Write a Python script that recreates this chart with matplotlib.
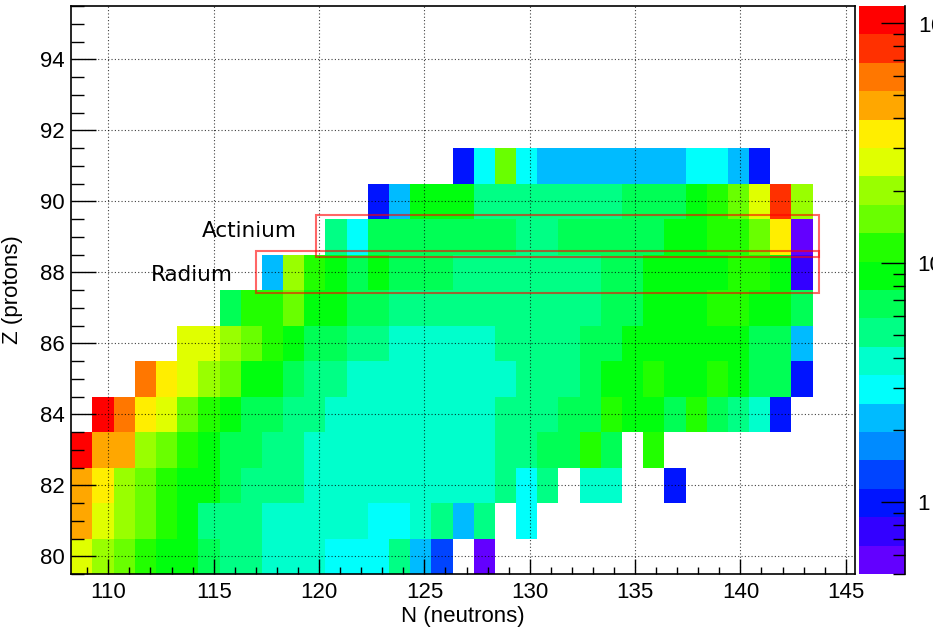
import colorsys

import numpy as np
import matplotlib
matplotlib.use('Agg')
import matplotlib.pyplot as plt
from matplotlib.colors import ListedColormap, LogNorm
from matplotlib.patches import Rectangle
from matplotlib.ticker import MultipleLocator, FixedLocator, FixedFormatter

# columns N = 109 ... 143, rows Z = 80 ... 91 ; 0 means no entry
n_values = list(range(109, 144))
z_values = list(range(80, 92))

z80 = [26, 20, 15, 12, 9, 9, 7, 5, 5, 4, 4, 4, 3, 3, 3, 5, 2, 1.3, 0, 0.57] + [0] * 15
z81 = [45, 26, 20, 15, 12, 9, 5, 5, 5, 4, 4, 4, 4, 4, 3, 3, 4, 5, 2, 5, 0, 3] + [0] * 13
z82 = [45, 35, 20, 15, 12, 9, 9, 7, 5, 5, 5] + [4] * 9 + [5, 3, 5, 0, 4, 4, 0, 0, 1] + [0] * 6
z83 = [103, 45, 45, 20, 15, 12, 9, 7, 7, 5, 5] + [4] * 9 + [5, 5, 7, 7, 12, 7, 0, 12] + [0] * 7
z84 = [0, 103, 60, 35, 26, 15, 12, 9, 7, 7, 5, 5] + [4] * 8 + \
      [5, 5, 5, 7, 7, 12, 9, 9, 7, 12, 7, 5, 4, 1, 0]
z85 = [0, 0, 0, 60, 35, 26, 20, 15, 9, 9, 7, 5, 5] + [4] * 8 + \
      [5, 5, 5, 7, 9, 9, 12, 9, 9, 12, 9, 7, 7, 1]
z86 = [0] * 5 + [26, 26, 20, 15, 12, 9, 7, 7, 5, 5] + [4] * 5 + [5] * 4 + \
      [7, 7] + [9] * 6 + [7, 7, 2]
z87 = [0] * 7 + [7, 12, 12, 15, 9, 9, 7, 7] + [5] * 10 + [7, 7, 9, 9, 9, 12, 12, 9, 9, 7]
z88 = [0] * 9 + [2, 20, 12, 9, 7, 9, 7, 7, 7] + [5] * 7 + [7, 7, 9, 9, 9, 9, 12, 12, 9, 0.75]
z89 = [0] * 12 + [5, 3] + [7] * 7 + [5, 5] + [7] * 5 + [9, 9, 12, 12, 15, 35, 0.57]
z90 = [0] * 14 + [1, 2, 9, 9, 9] + [5] * 7 + [7, 7, 7, 9, 12, 15, 26, 78, 20]
z91 = [0] * 18 + [1, 3, 15, 3] + [2] * 7 + [3, 3, 2, 1, 0, 0]

rows = np.array([z80, z81, z82, z83, z84, z85, z86, z87, z88, z89, z90, z91], dtype=float)
counts = np.ma.masked_less_equal(rows, 0)

# histogram binning of the N axis (37 bins over the frame) and unit bins in Z
x_lo, x_hi = 108.24, 145.44
bin_w = (x_hi - x_lo) / 37
x_edges = x_lo + bin_w * np.arange(len(n_values) + 1)
y_edges = np.array(z_values + [z_values[-1] + 1]) - 0.5

# 20-level rainbow, violet -> red, in HLS at full saturation
n_levels = 20
palette = []
for k in range(n_levels):
    idx = int((k + 0.99) * 50 / n_levels)
    hue = 0.0 if idx >= 49 else 280 - (idx + 1) * 5.6
    palette.append(colorsys.hls_to_rgb(hue / 360.0, 0.5, 1.0))
cmap = ListedColormap(palette)
norm = LogNorm(vmin=0.5, vmax=118)

plt.rcParams['font.family'] = ['Liberation Sans', 'DejaVu Sans']

fig = plt.figure(figsize=(9.33, 6.27), dpi=100)
ax = fig.add_axes([0.0764, 0.0845, 0.840, 0.9059])
cax = fig.add_axes([0.9207, 0.0845, 0.0493, 0.9059])

mesh = ax.pcolormesh(x_edges, y_edges, counts, cmap=cmap, norm=norm, zorder=1)

ax.set_xlim(x_lo, x_hi)
ax.set_ylim(79.5, 95.5)
ax.set_axisbelow(False)
ax.grid(True, which='major', color='black', linestyle=(0, (1, 2)),
        linewidth=0.8, alpha=0.75)

ax.xaxis.set_major_locator(MultipleLocator(5))
ax.xaxis.set_minor_locator(MultipleLocator(1))
ax.yaxis.set_major_locator(MultipleLocator(2))
ax.yaxis.set_minor_locator(MultipleLocator(0.5))
ax.tick_params(which='both', direction='in', top=False, right=False,
               labelsize=16, width=1)
ax.tick_params(axis='x', which='major', length=11, pad=6)
ax.tick_params(axis='x', which='minor', length=5)
ax.tick_params(axis='y', which='major', length=18, pad=5)
ax.tick_params(axis='y', which='minor', length=9)
for sp in ax.spines.values():
    sp.set_linewidth(1.2)

ax.set_xlabel('N (neutrons)', fontsize=16, labelpad=2)
ax.set_ylabel('Z (protons)', fontsize=16, labelpad=12)

# element rows
box_style = dict(fill=False, edgecolor='red', alpha=0.6, linewidth=1.5, zorder=4)
ax.add_patch(Rectangle((119.85, 88.43), 143.75 - 119.85, 89.61 - 88.43, **box_style))
ax.add_patch(Rectangle((117.03, 87.42), 143.75 - 117.03, 88.60 - 87.42, **box_style))
ax.text(114.45, 89.0, 'Actinium', family='DejaVu Sans', fontsize=15.5,
        ha='left', va='baseline', zorder=5)
ax.text(112.0, 87.74, 'Radium', family='DejaVu Sans', fontsize=15.5,
        ha='left', va='baseline', zorder=5)

cb = fig.colorbar(mesh, cax=cax)
cb.outline.set_visible(False)
cax.plot([1, 1], [0, 1], transform=cax.transAxes, color='black',
         linewidth=1.2, clip_on=False)
cax.yaxis.set_major_locator(FixedLocator([1, 10, 100]))
cax.yaxis.set_major_formatter(FixedFormatter(['1', '10', '10$^{2}$']))
cax.tick_params(which='both', direction='in', right=True, left=False,
                labelsize=16, width=1)
cax.tick_params(which='major', length=17, pad=9)
cax.tick_params(which='minor', length=8.5)

fig.savefig('out.png', dpi=100)
